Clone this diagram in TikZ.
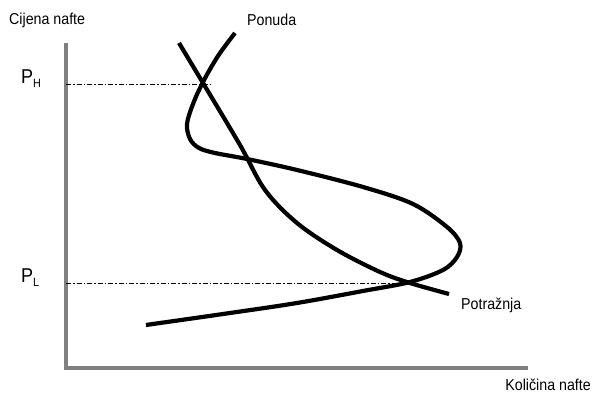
\documentclass[tikz,border=0pt]{standalone}
\usepackage{fontspec}
\setmainfont[FakeStretch=0.9]{Liberation Sans}
\begin{document}
\begin{tikzpicture}[x=1pt,y=-1pt,
  axis/.style={line width=4pt,draw=black!50},
  curve/.style={line width=4.2pt,line cap=butt,line join=round},
  guide/.style={line width=0.9pt,dash pattern=on 5pt off 2pt on 1.5pt off 2pt},
  lbl/.style={inner sep=0pt,font=\fontsize{15.8}{18}\selectfont},
  plbl/.style={inner sep=0pt,font=\fontsize{20}{22}\selectfont}]
\useasboundingbox (0,0) rectangle (595,395);
% axes
\coordinate (top) at (66,43);
\coordinate (orig) at (66,368);
\coordinate (right) at (528,368);
\draw[axis] (top) -- (orig) -- (right);
% guides
\coordinate (ph) at (66,84);
\coordinate (phe) at (212,84);
\coordinate (pl) at (66,283);
\coordinate (ple) at (405,283);
\draw[guide] (ph) -- (phe);
\draw[guide] (pl) -- (ple);
% supply
\draw[curve] plot[smooth,tension=0.55] coordinates {
 (235,33) (218,56) (203,82) (193,104) (187,124) (190,139) (199,148)
 (215,153) (247,159) (297,170) (363,187) (413,204) (447,227) (460,243)
 (457,257) (443,270) (410,282) (363,291) (297,303) (230,313) (146,325)};
% demand
\draw[curve] plot[smooth,tension=0.55] coordinates {
 (179,43) (203,83) (240,145) (265,190) (297,223)
 (337,250) (380,272) (410,283) (449,294)};
% labels
\node[lbl,anchor=west] (cn) at (9,20) {Cijena nafte};
\node[lbl,anchor=west] (po) at (247,20) {Ponuda};
\node[lbl,anchor=west] (pt) at (461,305) {Potražnja};
\node[lbl,anchor=east] (kn) at (591,385) {Količina nafte};
\node[plbl,anchor=west] (phl) at (21,79) {P\raisebox{-0.4ex}{\fontsize{12}{13}\selectfont H}};
\node[plbl,anchor=west] (pll) at (21,278) {P\raisebox{-0.4ex}{\fontsize{12}{13}\selectfont L}};
\end{tikzpicture}
\end{document}
